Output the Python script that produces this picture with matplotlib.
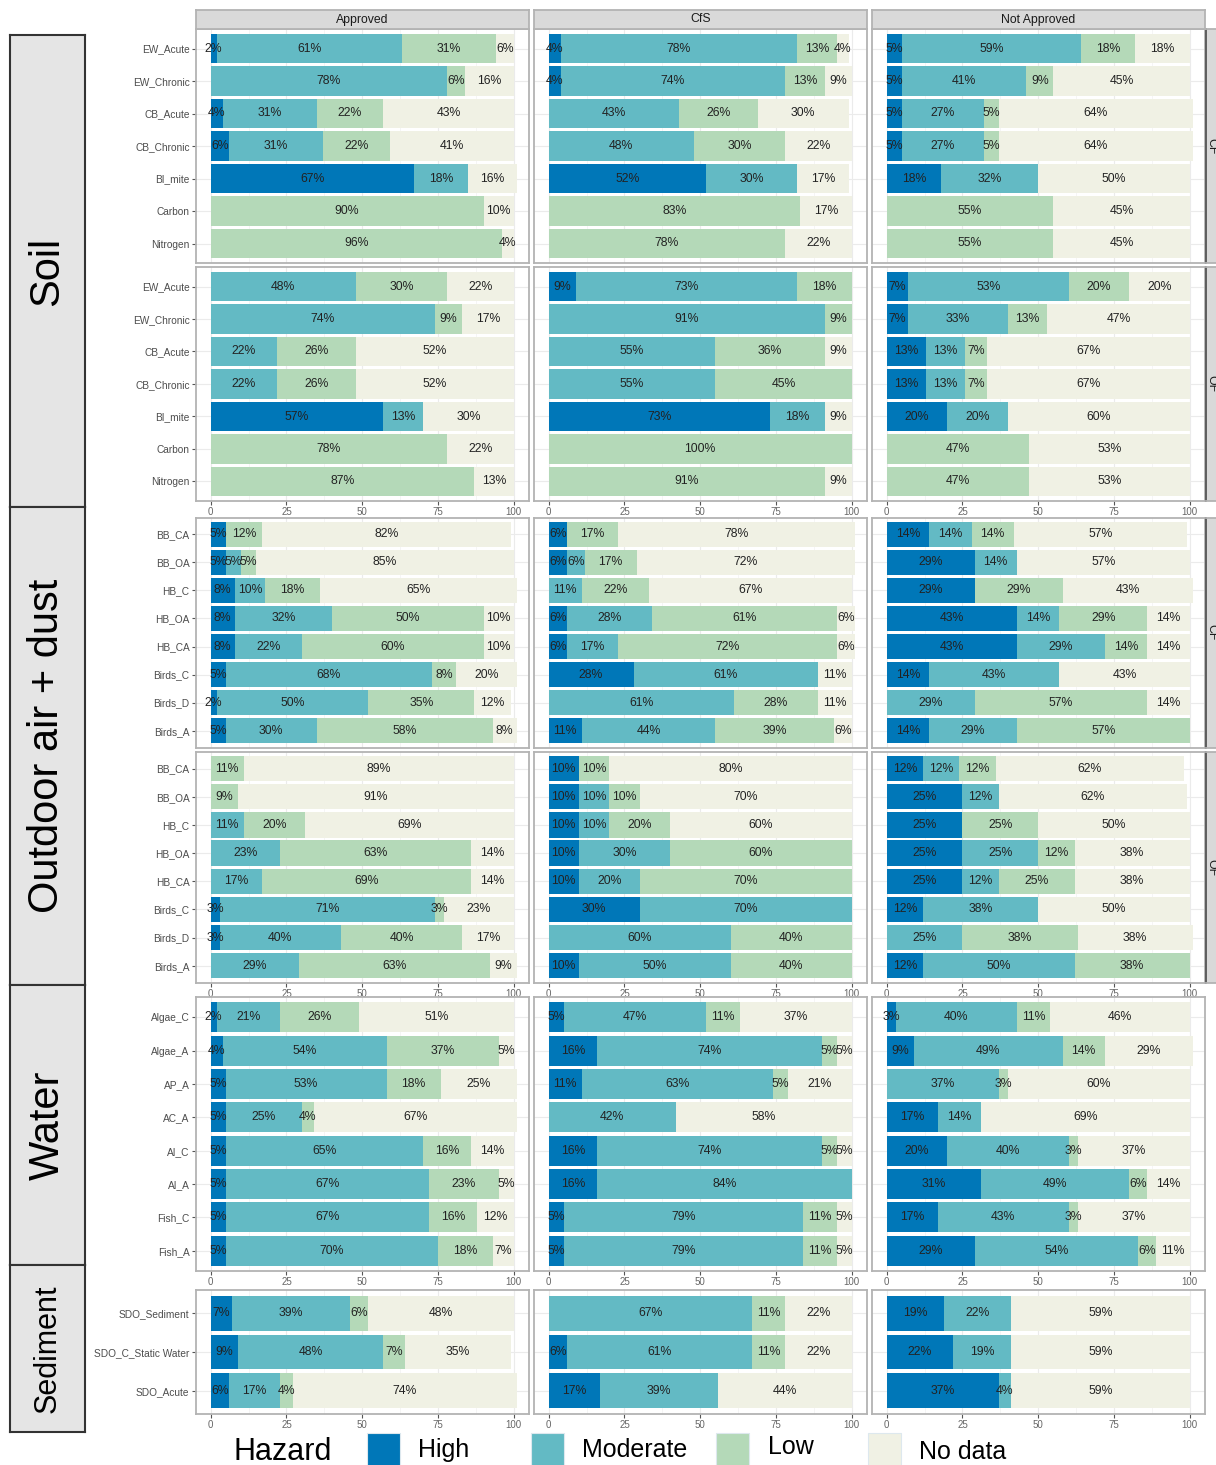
import matplotlib
matplotlib.use("Agg")
import matplotlib.pyplot as plt
from matplotlib.patches import Rectangle

plt.rcParams['font.family'] = ['Liberation Sans', 'DejaVu Sans']

W, H = 1216, 1465

hazards = ["High", "Moderate", "Low", "No data"]
colors = ["#0077b8", "#63bac4", "#b4d9b8", "#f0f1e4"]
statuses = ["Approved", "CfS", "Not Approved"]

# every row: High, Moderate, Low, No data (%)
soil_tests = ["EW_Acute", "EW_Chronic", "CB_Acute", "CB_Chronic", "BI_mite", "Carbon", "Nitrogen"]
soil_cf_approved = [[2, 61, 31, 6], [0, 78, 6, 16], [4, 31, 22, 43], [6, 31, 22, 41],
                    [67, 18, 0, 16], [0, 0, 90, 10], [0, 0, 96, 4]]
soil_cf_cfs = [[4, 78, 13, 4], [4, 74, 13, 9], [0, 43, 26, 30], [0, 48, 30, 22],
               [52, 30, 0, 17], [0, 0, 83, 17], [0, 0, 78, 22]]
soil_cf_notapp = [[5, 59, 18, 18], [5, 41, 9, 45], [5, 27, 5, 64], [5, 27, 5, 64],
                  [18, 32, 0, 50], [0, 0, 55, 45], [0, 0, 55, 45]]
soil_of_approved = [[0, 48, 30, 22], [0, 74, 9, 17], [0, 22, 26, 52], [0, 22, 26, 52],
                    [57, 13, 0, 30], [0, 0, 78, 22], [0, 0, 87, 13]]
soil_of_cfs = [[9, 73, 18, 0], [0, 91, 9, 0], [0, 55, 36, 9], [0, 55, 45, 0],
               [73, 18, 0, 9], [0, 0, 100, 0], [0, 0, 91, 9]]
soil_of_notapp = [[7, 53, 20, 20], [7, 33, 13, 47], [13, 13, 7, 67], [13, 13, 7, 67],
                  [20, 20, 0, 60], [0, 0, 47, 53], [0, 0, 47, 53]]

air_tests = ["BB_CA", "BB_OA", "HB_C", "HB_OA", "HB_CA", "Birds_C", "Birds_D", "Birds_A"]
air_cf_approved = [[5, 0, 12, 82], [5, 5, 5, 85], [8, 10, 18, 65], [8, 32, 50, 10],
                   [8, 22, 60, 10], [5, 68, 8, 20], [2, 50, 35, 12], [5, 30, 58, 8]]
air_cf_cfs = [[6, 0, 17, 78], [6, 6, 17, 72], [0, 11, 22, 67], [6, 28, 61, 6],
              [6, 17, 72, 6], [28, 61, 0, 11], [0, 61, 28, 11], [11, 44, 39, 6]]
air_cf_notapp = [[14, 14, 14, 57], [29, 14, 0, 57], [29, 0, 29, 43], [43, 14, 29, 14],
                 [43, 29, 14, 14], [14, 43, 0, 43], [0, 29, 57, 14], [14, 29, 57, 0]]
air_of_approved = [[0, 0, 11, 89], [0, 0, 9, 91], [0, 11, 20, 69], [0, 23, 63, 14],
                   [0, 17, 69, 14], [3, 71, 3, 23], [3, 40, 40, 17], [0, 29, 63, 9]]
air_of_cfs = [[10, 0, 10, 80], [10, 10, 10, 70], [10, 10, 20, 60], [10, 30, 60, 0],
              [10, 20, 70, 0], [30, 70, 0, 0], [0, 60, 40, 0], [10, 50, 40, 0]]
air_of_notapp = [[12, 12, 12, 62], [25, 12, 0, 62], [25, 0, 25, 50], [25, 25, 12, 38],
                 [25, 12, 25, 38], [12, 38, 0, 50], [0, 25, 38, 38], [12, 50, 38, 0]]

water_tests = ["Algae_C", "Algae_A", "AP_A", "AC_A", "AI_C", "AI_A", "Fish_C", "Fish_A"]
water_approved = [[2, 21, 26, 51], [4, 54, 37, 5], [5, 53, 18, 25], [5, 25, 4, 67],
                  [5, 65, 16, 14], [5, 67, 23, 5], [5, 67, 16, 12], [5, 70, 18, 7]]
water_cfs = [[5, 47, 11, 37], [16, 74, 5, 5], [11, 63, 5, 21], [0, 42, 0, 58],
             [16, 74, 5, 5], [16, 84, 0, 0], [5, 79, 11, 5], [5, 79, 11, 5]]
water_notapp = [[3, 40, 11, 46], [9, 49, 14, 29], [0, 37, 3, 60], [17, 14, 0, 69],
                [20, 40, 3, 37], [31, 49, 6, 14], [17, 43, 3, 37], [29, 54, 6, 11]]

sed_tests = ["SDO_Sediment", "SDO_C_Static Water", "SDO_Acute"]
sed_approved = [[7, 39, 6, 48], [9, 48, 7, 35], [6, 17, 4, 74]]
sed_cfs = [[0, 67, 11, 22], [6, 61, 11, 22], [17, 39, 0, 44]]
sed_notapp = [[19, 22, 0, 59], [22, 19, 0, 59], [37, 4, 0, 59]]


fig = plt.figure(figsize=(W / 100, H / 100), dpi=100)


def place(x0, y0, x1, y1):
    # pixel box -> figure axes
    return fig.add_axes([x0 / W, 1 - y1 / H, (x1 - x0) / W, (y1 - y0) / H])


def draw_panel(ax, tests, rows, show_y, show_x):
    n = len(tests)
    ypos = [n - 1 - i for i in range(n)]
    left = [0] * n
    for k, c in enumerate(colors):
        vals = [r[k] for r in rows]
        ax.barh(ypos, vals, left=left, height=0.9, color=c, linewidth=0, zorder=2)
        for y, l, v in zip(ypos, left, vals):
            if v > 0:
                ax.text(l + v / 2, y, f"{v}%", ha='center', va='center',
                        fontsize=8.8, color='#222222', zorder=3)
        left = [l + v for l, v in zip(left, vals)]

    ax.set_xlim(-5, 105)
    ax.set_ylim(-0.6, n - 0.4)
    ax.set_xticks([0, 25, 50, 75, 100])
    ax.set_xticks([12.5, 37.5, 62.5, 87.5], minor=True)
    ax.set_yticks(ypos)
    ax.set_yticklabels(tests if show_y else [])
    ax.set_axisbelow(True)
    ax.grid(which='major', color='#ebebeb', linewidth=0.8)
    ax.grid(which='minor', axis='x', color='#f2f2f2', linewidth=0.5)
    ax.tick_params(which='minor', length=0)
    ax.tick_params(axis='y', length=2.8 if show_y else 0, color='#555555',
                   labelsize=7.3, labelcolor='#4d4d4d', pad=1.5)
    ax.tick_params(axis='x', length=2.8 if show_x else 0, color='#555555',
                   labelbottom=show_x, labelsize=7, labelcolor='#666666', pad=1.5)
    for sp in ax.spines.values():
        sp.set_color('#b3b3b3')
        sp.set_linewidth(1.3)


def strip(ax, label, rotation=0, tx=0.5):
    ax.set_facecolor('#d9d9d9')
    ax.set_xticks([])
    ax.set_yticks([])
    for sp in ax.spines.values():
        sp.set_color('#b3b3b3')
        sp.set_linewidth(1.3)
    ax.text(tx, 0.5, label, ha='center', va='center', rotation=rotation,
            fontsize=8.8, color='#1a1a1a', transform=ax.transAxes)


col_x = [(195.5, 529), (533.5, 867), (871.5, 1205)]

blocks = [
    (soil_tests, [soil_cf_approved, soil_cf_cfs, soil_cf_notapp], 29, 263, False, "CF"),
    (soil_tests, [soil_of_approved, soil_of_cfs, soil_of_notapp], 267, 501, True, "OF"),
    (air_tests, [air_cf_approved, air_cf_cfs, air_cf_notapp], 517.5, 747.5, False, "CF"),
    (air_tests, [air_of_approved, air_of_cfs, air_of_notapp], 751.7, 982.6, True, "OF"),
    (water_tests, [water_approved, water_cfs, water_notapp], 997.3, 1270.7, True, None),
    (sed_tests, [sed_approved, sed_cfs, sed_notapp], 1290, 1414, True, None),
]

for tests, panels, y0, y1, show_x, side in blocks:
    for j, ((x0, x1), rows) in enumerate(zip(col_x, panels)):
        ax = place(x0, y0, x1, y1)
        draw_panel(ax, tests, rows, j == 0, show_x)
    if side:
        # right facet strip, cut by the figure edge as in the source
        sax = place(1205.5, y0, 1225, y1)
        strip(sax, side, rotation=-90, tx=0.29)
        sax.spines['left'].set_color('#555555')

# column headers
for (x0, x1), name in zip(col_x, statuses):
    strip(place(x0, 10, x1, 29), name)

# group boxes on the left
groups = [("Soil", 35, 507, 30), ("Outdoor air + dust", 507, 985, 30),
          ("Water", 985, 1265, 30), ("Sediment", 1265, 1432, 22)]
for name, y0, y1, fs in groups:
    gax = place(10.3, y0, 84.7, y1)
    gax.set_facecolor('#e5e5e5')
    gax.set_xticks([])
    gax.set_yticks([])
    for sp in gax.spines.values():
        sp.set_color('#333333')
        sp.set_linewidth(1.5)
    gax.text(0.5, 0.5, name, rotation=90, ha='center', va='center',
             fontsize=fs, color='black', transform=gax.transAxes)

# legend
lax = place(0, 1425, W, H)
lax.set_xlim(0, W)
lax.set_ylim(H, 1425)
lax.axis('off')
lax.text(234, 1452, "Hazard", fontsize=22, ha='left', va='center')
key_x = [367, 531, 716, 868]
text_x = [418, 582, 768, 919]
text_y = [1450, 1450, 1447, 1452]
for c, kx, tx, ty, name in zip(colors, key_x, text_x, text_y, hazards):
    lax.add_patch(Rectangle((kx, 1433), 33, 40, facecolor=c, edgecolor='#dde8ee', linewidth=0.8))
    lax.text(tx, ty, name, fontsize=18, ha='left', va='center')

fig.savefig("out.png", dpi=100)
